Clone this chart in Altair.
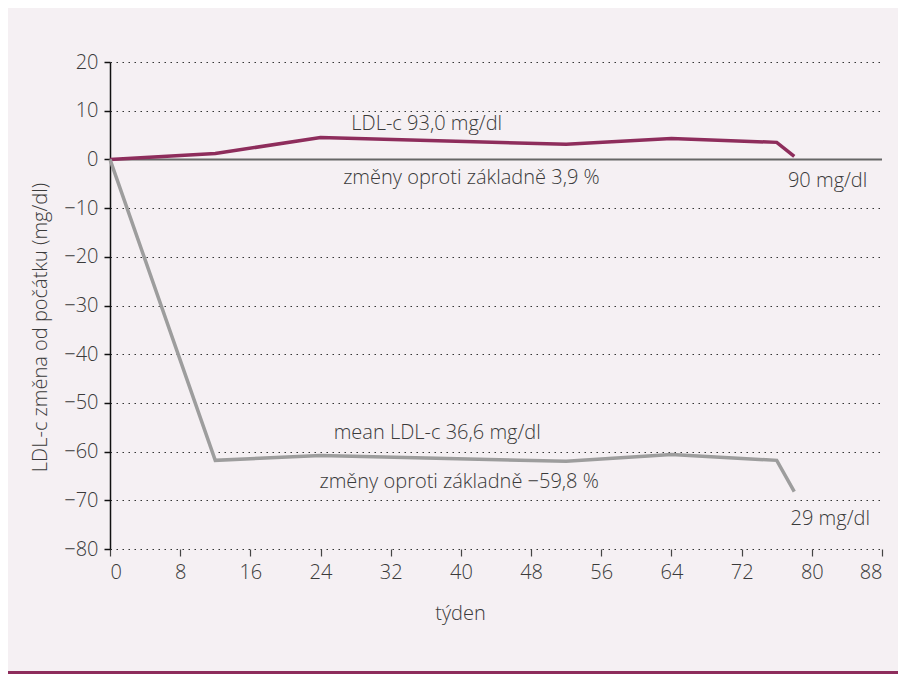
import altair as alt
import pandas as pd

weeks = [0, 12, 24, 52, 64, 76, 78]
placebo = [0, 1.2, 4.5, 3.1, 4.3, 3.5, 0.6]
treated = [0, -61.8, -60.8, -62.0, -60.6, -61.8, -68.2]

x_ticks = [0, 8, 16, 24, 32, 40, 48, 56, 64, 72, 80, 88]
y_ticks = [20, 10, 0, -10, -20, -30, -40, -50, -60, -70, -80]

ann_text = ["LDL-c 93,0 mg/dl", "změny oproti základně 3,9 %", "90 mg/dl",
            "mean LDL-c 36,6 mg/dl", "změny oproti základně \u221259,8 %", "29 mg/dl"]
ann_x = [36.1, 41.2, 81.8, 37.3, 39.8, 82.1]
ann_y = [7.2, -3.9, -4.5, -56.1, -66.3, -73.9]

PURPLE = "#8e2d5c"
GREY = "#9d9d9d"
TXT = "#3a3a3a"
FONT = "Open Sans"
FW = 300
FS = 20

df = pd.DataFrame({
    "week": weeks * 2,
    "value": placebo + treated,
    "series": ["placebo"] * len(weeks) + ["treated"] * len(weeks),
})
ann = pd.DataFrame({"text": ann_text, "x": ann_x, "y": ann_y})

xs = alt.Scale(domain=[0, 88], nice=False, zero=False)
ys = alt.Scale(domain=[-80, 20], nice=False, zero=False)

base_axes = alt.Chart(df).mark_line(opacity=0).encode(
    x=alt.X("week:Q", scale=xs, title="týden",
            axis=alt.Axis(values=x_ticks, domain=False, grid=False,
                          tickColor="#444", tickSize=7, tickWidth=1.2,
                          labelFont=FONT, labelFontSize=FS, labelColor=TXT,
                          labelFontWeight=FW, labelPadding=6,
                          titleFont=FONT, titleFontSize=FS, titleColor=TXT,
                          titleFontWeight=FW, titleX=350, titleY=64,
                          titleBaseline="middle")),
    y=alt.Y("value:Q", scale=ys, title="LDL-c změna od počátku (mg/dl)",
            axis=alt.Axis(values=y_ticks, domain=True, domainColor="#111",
                          domainWidth=1.5, tickColor="#111", tickSize=6,
                          tickWidth=1.5,
                          grid=True, gridDash=[1.5, 4.5], gridColor="#333",
                          gridWidth=1.2,
                          labelFont=FONT, labelFontSize=FS, labelColor=TXT,
                          labelFontWeight=FW, labelPadding=6,
                          titleFont=FONT, titleFontSize=FS, titleColor=TXT,
                          titleFontWeight=FW, titleX=-70, titleY=265,
                          titleBaseline="middle")),
)

zero_line = alt.Chart(pd.DataFrame({"a": [0], "b": [88], "y": [0]})).mark_rule(
    color="#666", strokeWidth=2).encode(
    x=alt.X("a:Q", scale=xs), x2="b:Q", y=alt.Y("y:Q", scale=ys))

lines = alt.Chart(df).mark_line(strokeWidth=3.5, strokeJoin="miter").encode(
    x=alt.X("week:Q", scale=xs),
    y=alt.Y("value:Q", scale=ys),
    color=alt.Color("series:N", scale=alt.Scale(domain=["placebo", "treated"],
                                                 range=[PURPLE, GREY]),
                    legend=None),
)

texts = alt.Chart(ann).mark_text(font=FONT, fontSize=FS, fontWeight=FW,
                                 color=TXT, align="center",
                                 baseline="middle").encode(
    x=alt.X("x:Q", scale=xs), y=alt.Y("y:Q", scale=ys), text="text:N")

bar = alt.Chart(pd.DataFrame({"k": [1]})).mark_rule(
    color=PURPLE, strokeWidth=6, clip=False).encode(
    x=alt.value(-102), x2=alt.value(800), y=alt.value(612))

chart = alt.layer(base_axes, zero_line, lines, texts, bar).properties(
    width=772, height=487,
    autosize=alt.AutoSizeParams(type="none"),
    padding={"left": 102, "top": 54, "right": 16, "bottom": 140},
).configure(background="#f5f0f3").configure_view(stroke=None)

chart.save("out.html", embed_options={"renderer": "svg", "actions": False})
